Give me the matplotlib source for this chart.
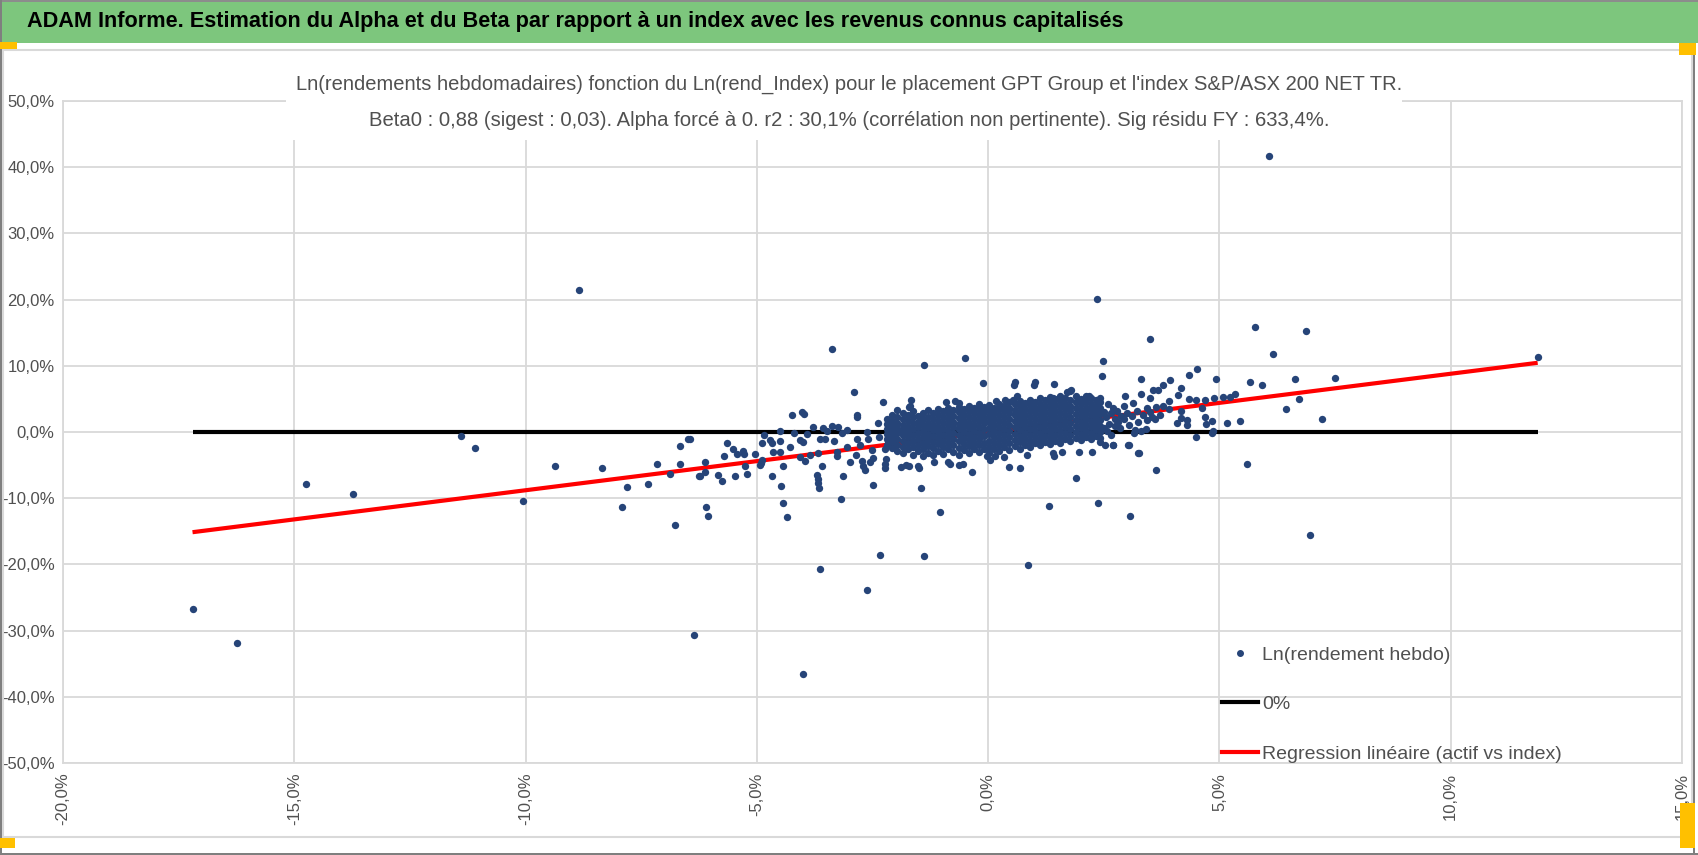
import numpy as np
import matplotlib
matplotlib.use("Agg")
import matplotlib.pyplot as plt
from matplotlib.patches import Rectangle
from matplotlib.lines import Line2D

plt.rcParams['font.family'] = ['Liberation Sans', 'DejaVu Sans']

# ---- data (weekly log returns, in %) : (index, asset) ----
outliers = [
    (-17.2, -26.8), (-16.24, -31.9), (-14.74, -7.8), (-13.73, -9.3), (-11.40, -0.6),
    (-11.09, -2.4), (-10.05, -10.4), (-9.36, -5.1), (-8.84, 21.4), (-8.34, -5.5),
    (-7.92, -11.4), (-7.80, -8.3), (-7.35, -7.9), (-7.16, -4.9), (-6.87, -6.4),
    (-6.76, -14.0), (-6.67, -4.9), (-6.67, -2.1), (-6.48, -1.1), (-6.24, -6.7),
    (-6.36, -30.6), (-6.10, -11.3), (-6.06, -12.7), (-6.44, -1.0),
    (-4.01, -36.6), (-3.63, -20.7), (-2.62, -23.9), (-2.33, -18.6), (-1.38, -18.8),
    (0.86, -20.1), (-1.03, -12.1), (1.31, -11.2), (2.38, -10.8), (3.06, -12.7),
    (1.90, -7.0), (6.07, 41.7), (2.35, 20.1), (-3.38, 12.6), (11.88, 11.4),
    (-1.38, 10.1), (-0.51, 11.2), (3.50, 14.1), (2.48, 10.7), (5.76, 15.8),
    (6.16, 11.8), (6.87, 15.2), (6.96, -15.5), (5.60, -4.9),
]

left_pts = [
    (-6.12, -4.6), (-6.12, -6.0), (-6.23, -6.7), (-5.83, -6.5), (-5.76, -7.4),
    (-5.64, -1.7), (-5.72, -3.6), (-5.51, -2.6), (-5.43, -3.3), (-5.30, -2.8),
    (-5.28, -3.3), (-5.48, -6.7), (-5.22, -6.4), (-5.25, -5.1), (-5.04, -3.3),
    (-4.93, -5.0), (-4.90, -4.7), (-4.88, -4.3), (-4.88, -1.7), (-4.84, -0.5),
    (-4.71, -1.2), (-4.68, -1.7), (-4.65, -3.0), (-4.68, -6.7), (-4.51, 0.15),
    (-4.50, -1.3), (-4.50, -3.0), (-4.44, -5.1), (-4.48, -8.1), (-4.44, -10.8),
    (-4.35, -12.8), (-4.24, 2.6), (-4.03, 3.0), (-3.99, 2.7), (-4.19, -0.2),
    (-4.28, -2.2), (-4.06, -1.2), (-4.00, -1.5), (-4.06, -3.8), (-3.96, -4.4),
    (-3.92, -0.3), (-3.85, -3.5), (-3.78, 0.8), (-3.67, -3.1), (-3.70, -6.5),
    (-3.67, -7.7), (-3.66, -8.5), (-3.68, -7.1), (-3.63, -1.0), (-3.57, 0.65),
    (-3.60, -5.1), (-3.52, -1.1), (-3.48, 0.1), (-3.38, 0.9), (-3.34, -1.4),
    (-3.24, 0.8), (-3.26, -3.0), (-3.27, -3.6), (-3.16, -0.2), (-3.14, -6.7),
    (-3.18, -10.1), (-3.05, 0.3), (-3.05, -2.2), (-2.98, -4.5), (-2.89, 6.1),
    (-2.84, 2.3), (-2.84, 2.6), (-2.84, -1.0), (-2.85, -3.5), (-2.77, -2.0),
    (-2.70, -5.1), (-2.72, -4.4), (-2.62, 0.05), (-2.60, -1.0), (-2.51, -2.7),
    (-2.48, -8.0), (-2.48, -4.0), (-2.39, 1.4), (-2.28, 4.5), (-2.35, -0.7),
    (-2.23, -2.5), (-2.23, -5.5), (-2.21, -4.1), (-2.17, -1.6), (-2.16, 1.2),
    (-1.97, 3.3), (-1.95, 0.2), (-1.89, -5.3), (-1.72, 3.8), (-1.72, -5.1),
    (-2.66, -5.7), (-2.56, -4.6), (-2.23, -4.9), (-1.77, -5.0), (-1.52, -5.2),
    (-1.50, -5.5), (-1.46, -8.5), (-1.18, -4.5), (-0.86, -4.5), (-0.55, -4.9),
]

mid_pts = [
    (-0.34, -6.1), (0.68, -5.5), (0.46, -5.3), (-0.82, -4.8), (-0.62, -5.0),
    (0.05, -4.2), (1.42, -3.6), (-0.02, -3.7), (0.15, -3.7), (0.34, -3.8),
    (0.84, -3.5), (1.41, -3.2), (1.60, -3.0), (1.96, -3.0), (2.25, -3.0),
    (-0.11, 7.4), (0.58, 7.6), (0.55, 7.1), (1.02, 7.6), (1.00, 7.1),
    (1.43, 7.2), (1.77, 6.2), (1.80, 6.3), (1.71, 6.0), (0.63, 5.5),
    (-1.66, 4.8), (-1.70, 3.9), (-0.91, 4.5), (-0.72, 4.7), (-0.62, 4.4),
    (-0.36, 3.4), (0.17, 4.7), (0.37, 4.9), (0.54, 4.8), (1.41, 5.1),
    (2.19, 5.4), (2.42, 5.1), (2.46, 8.4),
]

right_pts = [
    (3.31, 8.0), (4.35, 8.6), (4.51, 9.5), (4.92, 8.0), (3.93, 7.9),
    (3.79, 7.1), (3.56, 6.3), (3.68, 6.3), (4.18, 6.7), (4.10, 5.6),
    (2.95, 5.5), (3.31, 5.7), (3.50, 5.2), (4.35, 5.0), (4.49, 4.8),
    (4.68, 4.8), (4.89, 5.1), (5.07, 5.3), (5.22, 5.3), (5.34, 5.7),
    (5.67, 7.6), (5.93, 7.1), (6.64, 8.0), (7.49, 8.2), (6.71, 5.0),
    (6.43, 3.4), (7.21, 1.9), (5.45, 1.7), (5.17, 1.3), (4.84, 1.6),
    (4.86, 0.2), (4.85, -0.1), (4.63, 3.6), (4.68, 2.3), (4.70, 1.2),
    (4.49, -0.7), (4.30, 1.8), (4.30, 1.0), (4.09, 1.3), (4.17, 3.1),
    (4.17, 2.1), (3.91, 4.7), (3.91, 3.4), (3.77, 3.9), (3.62, 3.8),
    (3.61, 1.9), (3.71, 2.6), (3.43, 3.6), (3.43, 1.8), (3.42, 0.4),
    (3.31, 0.1), (3.16, -0.1), (3.17, 0.3), (3.14, 4.4), (2.94, 3.9),
    (2.94, 1.9), (2.71, 3.6), (2.74, 1.9), (2.84, 0.6), (2.69, -1.9),
    (3.04, -1.9), (3.26, -3.2), (3.63, -5.7), (2.53, -2.0), (3.25, -3.2),
    (3.03, -2.0), (2.69, -2.0), (2.50, 3.0), (2.55, 2.2), (2.60, 4.2),
    (2.62, 1.2), (2.66, 2.8), (2.78, 3.2), (2.80, 1.5), (2.88, 2.4),
    (2.50, 0.6), (2.58, 0.2), (2.66, -0.5), (2.75, 0.9), (3.00, 2.9),
    (3.05, 1.0), (3.10, 2.4), (3.22, 3.1), (3.25, 1.5), (3.35, 2.6),
    (3.50, 3.0), (3.55, 2.2),
]

# dense core of the cloud, read column by column
core_cols = [
    (-2.18, [-2.0, -1.1, -0.3, 0.4, 1.2, 2.0]),
    (-2.07, [-2.4, -1.5, -0.6, 0.2, 0.9, 1.7, 2.6]),
    (-1.96, [-2.9, -1.9, -1.0, -0.2, 0.6, 1.4, 2.3]),
    (-1.85, [-3.2, -2.2, -1.3, -0.5, 0.3, 1.1, 1.9, 2.8]),
    (-1.74, [-2.6, -1.7, -0.8, 0.0, 0.8, 1.6, 2.5]),
    (-1.63, [-3.5, -2.3, -1.4, -0.4, 0.5, 1.3, 2.2, 3.1]),
    (-1.52, [-2.9, -1.9, -1.0, -0.1, 0.7, 1.5, 2.4]),
    (-1.41, [-3.7, -2.5, -1.6, -0.7, 0.2, 1.0, 1.9, 2.9]),
    (-1.30, [-3.1, -2.1, -1.2, -0.3, 0.6, 1.4, 2.3, 3.3]),
    (-1.19, [-3.4, -2.4, -1.5, -0.6, 0.3, 1.1, 2.0, 2.8]),
    (-1.08, [-2.8, -1.8, -0.9, 0.0, 0.8, 1.7, 2.6, 3.5]),
    (-0.97, [-3.3, -2.2, -1.3, -0.4, 0.5, 1.3, 2.2, 3.1]),
    (-0.86, [-2.6, -1.6, -0.7, 0.2, 1.0, 1.9, 2.8, 3.7]),
    (-0.75, [-3.0, -2.0, -1.1, -0.2, 0.7, 1.5, 2.4, 3.3]),
    (-0.64, [-3.4, -2.4, -1.4, -0.5, 0.4, 1.2, 2.1, 3.0, 3.8]),
    (-0.53, [-2.7, -1.8, -0.9, 0.0, 0.9, 1.7, 2.6, 3.5]),
    (-0.42, [-3.1, -2.1, -1.2, -0.3, 0.6, 1.4, 2.3, 3.2, 4.0]),
    (-0.31, [-2.5, -1.6, -0.7, 0.2, 1.1, 1.9, 2.8, 3.6]),
    (-0.20, [-3.0, -2.0, -1.0, -0.1, 0.8, 1.6, 2.5, 3.4, 4.2]),
    (-0.09, [-2.6, -1.7, -0.6, 0.4, 1.3, 2.1, 3.0, 3.8]),
    (0.02, [-3.1, -2.2, -1.3, -0.3, 0.6, 1.5, 2.4, 3.3, 4.1]),
    (0.13, [-2.5, -1.6, -0.7, 0.2, 1.1, 2.0, 2.8, 3.7]),
    (0.24, [-2.9, -1.9, -1.0, -0.1, 0.8, 1.7, 2.6, 3.5, 4.3]),
    (0.35, [-2.3, -1.4, -0.5, 0.5, 1.4, 2.3, 3.1, 4.0]),
    (0.46, [-2.7, -1.7, -0.8, 0.1, 1.0, 1.9, 2.8, 3.7, 4.5]),
    (0.57, [-2.1, -1.2, -0.3, 0.7, 1.6, 2.5, 3.3, 4.2]),
    (0.68, [-2.5, -1.5, -0.6, 0.3, 1.2, 2.1, 3.0, 3.9, 4.7]),
    (0.79, [-1.9, -1.0, -0.1, 0.8, 1.7, 2.6, 3.5, 4.4]),
    (0.90, [-2.3, -1.3, -0.4, 0.5, 1.4, 2.3, 3.2, 4.1, 4.9]),
    (1.01, [-1.7, -0.8, 0.1, 1.0, 1.9, 2.8, 3.7, 4.6]),
    (1.12, [-2.0, -1.1, -0.2, 0.7, 1.6, 2.5, 3.4, 4.3, 5.1]),
    (1.23, [-1.5, -0.6, 0.3, 1.2, 2.1, 3.0, 3.9, 4.8]),
    (1.34, [-1.8, -0.9, 0.0, 0.9, 1.8, 2.7, 3.6, 4.5, 5.3]),
    (1.45, [-1.3, -0.4, 0.5, 1.4, 2.3, 3.2, 4.1, 5.0]),
    (1.56, [-1.6, -0.7, 0.2, 1.1, 2.0, 2.9, 3.8, 4.7, 5.5]),
    (1.67, [-1.1, -0.2, 0.7, 1.6, 2.5, 3.4, 4.3, 5.2]),
    (1.78, [-1.4, -0.5, 0.4, 1.3, 2.2, 3.1, 4.0, 4.9]),
    (1.89, [-0.9, 0.0, 0.9, 1.8, 2.7, 3.6, 4.5, 5.4]),
    (2.00, [-1.2, -0.3, 0.6, 1.5, 2.4, 3.3, 4.2, 5.0]),
    (2.11, [-0.8, 0.1, 1.0, 1.9, 2.8, 3.7, 4.6, 5.5]),
    (2.22, [-1.1, -0.2, 0.7, 1.6, 2.5, 3.4, 4.3, 5.1]),
    (2.33, [-0.6, 0.3, 1.2, 2.1, 3.0, 3.9, 4.8]),
    (2.42, [-1.5, -0.9, 0.0, 0.9, 1.8, 2.7, 3.6, 4.5]),
]

beta0 = 0.88  # from the subtitle, alpha forced to 0

x_ticks = [-20, -15, -10, -5, 0, 5, 10, 15]
x_labels = ['-20,0%', '-15,0%', '-10,0%', '-5,0%', '0,0%', '5,0%', '10,0%', '15,0%']
y_ticks = [-50, -40, -30, -20, -10, 0, 10, 20, 30, 40, 50]
y_labels = ['-50,0%', '-40,0%', '-30,0%', '-20,0%', '-10,0%', '0,0%',
            '10,0%', '20,0%', '30,0%', '40,0%', '50,0%']

bar_title = "ADAM Informe. Estimation du Alpha et du Beta par rapport à un index avec les revenus connus capitalisés"
title_1 = "Ln(rendements hebdomadaires) fonction du Ln(rend_Index) pour le placement GPT Group et l'index S&P/ASX 200 NET TR."
title_2 = "Beta0 : 0,88 (sigest : 0,03). Alpha forcé à 0. r2 : 30,1% (corrélation non pertinente). Sig résidu FY : 633,4%."

# ---- assemble points ----
pts = np.array(outliers + left_pts + mid_pts + right_pts)
core_x = np.concatenate([[cx] * len(ys) for cx, ys in core_cols])
core_y = np.concatenate([ys for cx, ys in core_cols])
px = np.concatenate([pts[:, 0], core_x])
py = np.concatenate([pts[:, 1], core_y])

line_x = np.array([px.min(), px.max()])
line_y = beta0 * line_x

W, H = 1698, 855
fig = plt.figure(figsize=(W / 100, H / 100), dpi=100)
ax = fig.add_axes([63 / W, 1 - 763 / H, (1682 - 63) / W, (763 - 101) / H])

grey_txt = '#505050'
grid_c = '#d9d9d9'
dot_c = '#264478'

ax.plot(line_x, [0, 0], color='black', lw=3, zorder=2, solid_capstyle='butt')
ax.plot(line_x, line_y, color='#ff0000', lw=3, zorder=2, solid_capstyle='butt')
ax.scatter(px, py, s=28, color=dot_c, linewidths=0, zorder=3)

ax.set_xlim(-20, 15)
ax.set_ylim(-50, 50)
ax.set_xticks(x_ticks)
ax.set_xticklabels(x_labels, rotation=90, fontsize=12, color=grey_txt)
ax.set_yticks(y_ticks)
ax.set_yticklabels(y_labels, fontsize=12, color=grey_txt)
ax.tick_params(length=0)
ax.tick_params(axis='x', pad=7)
ax.tick_params(axis='y', pad=6)
ax.grid(True, color=grid_c, lw=1.3, zorder=0)
ax.set_axisbelow(True)
for sp in ax.spines.values():
    sp.set_color(grid_c)
    sp.set_linewidth(1.3)

handles = [
    Line2D([], [], ls='none', marker='o', markersize=4, color=dot_c),
    Line2D([], [], color='black', lw=3),
    Line2D([], [], color='#ff0000', lw=3),
]
leg = ax.legend(handles, ['Ln(rendement hebdo)', '0%', 'Regression linéaire (actif vs index)'],
                loc='upper left', bbox_to_anchor=(1222 / W, 1 - 646 / H),
                bbox_transform=fig.transFigure, frameon=False, fontsize=14,
                handlelength=1.85, handletextpad=0.2, labelspacing=1.65,
                borderpad=0, borderaxespad=0)
for t in leg.get_texts():
    t.set_color(grey_txt)

# ---- header bar and chart frame ----
fig.patches.append(Rectangle((0, 1 - 43 / H), 1, 43 / H, transform=fig.transFigure,
                             facecolor='#7dc67d', edgecolor='none', zorder=1))
fig.patches.append(Rectangle((0, 1 - 2 / H), 1, 2 / H, transform=fig.transFigure,
                             facecolor='#8c8c8c', edgecolor='none', zorder=1))
fig.text(27 / W, 1 - 22 / H, bar_title, fontsize=15.6, fontweight='bold', color='black',
         ha='left', va='center')

# white box behind the chart title (hides the top gridline)
fig.patches.append(Rectangle((286 / W, 1 - 140 / H), (1402 - 286) / W, 80 / H,
                             transform=fig.transFigure, facecolor='white',
                             edgecolor='none', zorder=1))
fig.text(849 / W, 1 - 84 / H, title_1, fontsize=14.5, color=grey_txt, ha='center', va='center')
fig.text(849 / W, 1 - 120 / H, title_2, fontsize=14.6, color=grey_txt, ha='center', va='center')

# chart area outline + outer border
fig.patches.append(Rectangle((3 / W, 1 - 837 / H), (1692 - 3) / W, (837 - 50) / H,
                             transform=fig.transFigure, fill=False,
                             edgecolor=grid_c, lw=1.5, zorder=1))
fig.patches.append(Rectangle((0, 1 - 855 / H), 2 / W, 1, transform=fig.transFigure,
                             facecolor='#7f7f7f', edgecolor='none', zorder=1))
fig.patches.append(Rectangle((0, 1 - 855 / H), 1, 2 / H, transform=fig.transFigure,
                             facecolor='#7f7f7f', edgecolor='none', zorder=1))
fig.patches.append(Rectangle((1693 / W, 0), 2 / W, 1 - 43 / H, transform=fig.transFigure,
                             facecolor='#7f7f7f', edgecolor='none', zorder=1))

# selection handles
for (hx, hy, hw, hh) in [(0, 42, 17, 7), (1679, 43, 17, 12), (0, 838, 15, 10), (1680, 803, 15, 45)]:
    fig.patches.append(Rectangle((hx / W, 1 - (hy + hh) / H), hw / W, hh / H,
                                 transform=fig.transFigure, facecolor='#ffc000',
                                 edgecolor='none', zorder=2))

fig.savefig('out.png', dpi=100)
